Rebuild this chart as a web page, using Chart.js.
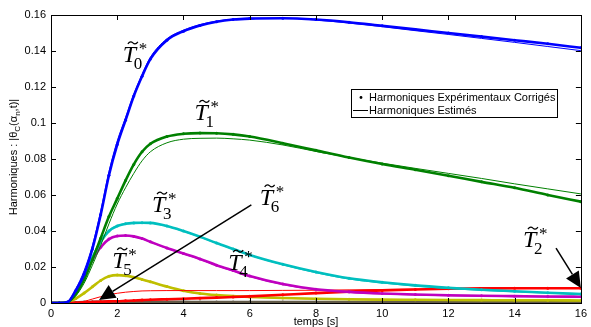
<!DOCTYPE html>
<html>
<head>
<meta charset="utf-8">
<script src="https://cdn.jsdelivr.net/npm/chart.js@4/dist/chart.umd.min.js"></script>
<style>
  html, body { margin: 0; padding: 0; background: #fff; }
  #wrap { width: 591px; height: 327px; }
</style>
</head>
<body>
<div id="wrap"><canvas id="graphe" width="591" height="327"></canvas></div>
<script>
// temps [s]
var temps = [0, 0.25, 0.5, 0.75, 1, 1.25, 1.5, 1.75, 2, 2.25, 2.5, 2.75, 3, 3.5, 4, 4.5, 5, 5.5, 6, 7, 8, 9, 10, 11, 12, 13, 14, 15, 16];

// harmoniques experimentaux corriges (points) et estimes (traits)
var t0Exp = [0, 0, 0.0005, 0.007, 0.016, 0.030, 0.049, 0.071, 0.088, 0.1015, 0.115, 0.126, 0.1355, 0.146, 0.151, 0.1542, 0.1563, 0.1575, 0.158, 0.1582, 0.1575, 0.156, 0.154, 0.152, 0.150, 0.148, 0.146, 0.144, 0.1418];
var t0Est = [0, 0, 0.0008, 0.008, 0.018, 0.032, 0.051, 0.073, 0.090, 0.103, 0.116, 0.127, 0.1365, 0.1468, 0.1516, 0.1547, 0.1566, 0.1577, 0.1582, 0.1582, 0.1572, 0.1555, 0.1535, 0.1513, 0.1492, 0.147, 0.1448, 0.1425, 0.1402];
var t1Exp = [0, 0, 0.0004, 0.005, 0.013, 0.024, 0.036, 0.048, 0.058, 0.068, 0.077, 0.084, 0.0885, 0.0925, 0.094, 0.0944, 0.0943, 0.0937, 0.0925, 0.0888, 0.0848, 0.0808, 0.0772, 0.074, 0.0707, 0.0673, 0.064, 0.060, 0.0563];
var t1Est = [0, 0, 0.0003, 0.004, 0.011, 0.021, 0.032, 0.044, 0.055, 0.064, 0.072, 0.079, 0.084, 0.089, 0.091, 0.0915, 0.0916, 0.0912, 0.0905, 0.0878, 0.0842, 0.0808, 0.0777, 0.0748, 0.072, 0.0692, 0.0662, 0.0634, 0.0606];
var t2Exp = [0, 0, 0, 0.0001, 0.0003, 0.0005, 0.0007, 0.0009, 0.001, 0.0012, 0.0014, 0.0016, 0.0018, 0.0021, 0.0024, 0.0027, 0.003, 0.0033, 0.0037, 0.0046, 0.0055, 0.0063, 0.007, 0.0075, 0.0079, 0.0081, 0.0082, 0.0082, 0.0082];
var t2Est = [0, 0, 0, 0.0003, 0.0009, 0.0022, 0.0035, 0.0046, 0.0054, 0.006, 0.0064, 0.0067, 0.0068, 0.0069, 0.0069, 0.0069, 0.0069, 0.0069, 0.0069, 0.007, 0.0071, 0.0073, 0.0075, 0.0077, 0.0078, 0.0079, 0.008, 0.0081, 0.0081];
var t3Exp = [0, 0, 0.0003, 0.006, 0.015, 0.025, 0.034, 0.040, 0.0428, 0.044, 0.0445, 0.0446, 0.0445, 0.0428, 0.040, 0.0368, 0.0333, 0.030, 0.0267, 0.0215, 0.0172, 0.0137, 0.0115, 0.0098, 0.0085, 0.0074, 0.0065, 0.0057, 0.005];
var t3Est = [0, 0, 0.0004, 0.007, 0.016, 0.026, 0.035, 0.0405, 0.043, 0.0442, 0.0446, 0.0446, 0.0444, 0.0426, 0.0398, 0.0366, 0.0331, 0.0298, 0.0265, 0.0212, 0.0168, 0.0133, 0.0111, 0.0094, 0.008, 0.007, 0.0062, 0.0055, 0.0048];
var t4Exp = [0, 0, 0.0003, 0.006, 0.015, 0.024, 0.031, 0.0355, 0.0372, 0.0375, 0.037, 0.0358, 0.034, 0.0305, 0.0275, 0.0245, 0.021, 0.018, 0.015, 0.0105, 0.0076, 0.0062, 0.0053, 0.0047, 0.0043, 0.004, 0.0038, 0.0036, 0.0035];
var t4Est = [0, 0, 0.0004, 0.0065, 0.0155, 0.0245, 0.0312, 0.0355, 0.0371, 0.0373, 0.0368, 0.0356, 0.0338, 0.0303, 0.0272, 0.0242, 0.0207, 0.0177, 0.0147, 0.0102, 0.0073, 0.0059, 0.005, 0.0044, 0.004, 0.0037, 0.0035, 0.0033, 0.0032];
var t5Exp = [0, 0, 0.0002, 0.0025, 0.0055, 0.009, 0.0125, 0.0148, 0.0155, 0.0152, 0.0143, 0.0131, 0.0118, 0.0091, 0.0068, 0.0053, 0.0044, 0.0038, 0.0034, 0.0028, 0.0024, 0.0021, 0.0019, 0.0018, 0.0017, 0.0016, 0.0015, 0.0015, 0.0014];
var t5Est = [0, 0, 0.0003, 0.0027, 0.0057, 0.0092, 0.0126, 0.0148, 0.0154, 0.015, 0.0141, 0.0129, 0.0116, 0.0089, 0.0066, 0.0051, 0.0042, 0.0036, 0.0032, 0.0026, 0.0022, 0.0019, 0.0017, 0.0016, 0.0015, 0.0014, 0.0013, 0.0013, 0.0012];
var t6Exp = [0, 0, 0.0001, 0.0003, 0.0005, 0.0006, 0.0007, 0.0007, 0.0007, 0.0007, 0.0007, 0.0006, 0.0006, 0.0006, 0.0006, 0.0005, 0.0005, 0.0005, 0.0005, 0.0005, 0.0005, 0.0005, 0.0005, 0.0005, 0.0005, 0.0005, 0.0005, 0.0005, 0.0005];
var t6Est = [0, 0, 0.0001, 0.0002, 0.0004, 0.0005, 0.0005, 0.0005, 0.0005, 0.0005, 0.0005, 0.0005, 0.0005, 0.0005, 0.0004, 0.0004, 0.0004, 0.0004, 0.0004, 0.0004, 0.0004, 0.0004, 0.0004, 0.0004, 0.0004, 0.0004, 0.0004, 0.0004, 0.0004];

var ticksX = [0, 2, 4, 6, 8, 10, 12, 14, 16];
var ticksY = [0, 0.02, 0.04, 0.06, 0.08, 0.1, 0.12, 0.14, 0.16];

// etiquettes des courbes : [indice, t, valeur]
var etiquettes = [["0", 2.17, 0.134], ["1", 4.33, 0.1015], ["3", 3.05, 0.0505], ["6", 6.3, 0.0545], ["5", 1.85, 0.0195], ["4", 5.35, 0.0183], ["2", 14.25, 0.031]];
// fleches : [t depart, val depart, t pointe, val pointe]
var fleches = [[6.05, 0.0545, 1.45, 0.0017], [15.25, 0.0305, 16, 0.0083]];

var sansF = '"Liberation Sans", Arial, sans-serif';
var serifF = '"Liberation Serif", "Times New Roman", serif';

function serie(nom, vals, coul, exp) {
  return {
    label: nom,
    data: vals.map(function (v, i) { return { x: temps[i], y: v }; }),
    borderColor: coul,
    backgroundColor: coul,
    borderWidth: exp ? 2.6 : 1,
    pointRadius: exp ? 1.5 : 0,
    pointHoverRadius: 0,
    pointBorderWidth: 0,
    cubicInterpolationMode: 'monotone',
    fill: false
  };
}

var jeux = [
  serie('T0 exp', t0Exp, '#0000ff', true), serie('T0 est', t0Est, '#0000ff', false),
  serie('T1 exp', t1Exp, '#008000', true), serie('T1 est', t1Est, '#008000', false),
  serie('T3 exp', t3Exp, '#00bfbf', true), serie('T3 est', t3Est, '#00bfbf', false),
  serie('T4 exp', t4Exp, '#bf00bf', true), serie('T4 est', t4Est, '#bf00bf', false),
  serie('T2 est', t2Est, '#ff0000', false), serie('T2 exp', t2Exp, '#ff0000', true),
  serie('T5 exp', t5Exp, '#bfbf00', true), serie('T5 est', t5Est, '#bfbf00', false),
  serie('T6 exp', t6Exp, '#625a48', true), serie('T6 est', t6Est, '#404040', false)
];

function tildeT(ctx, x, y, sub) {
  ctx.fillStyle = '#000';
  ctx.textAlign = 'left';
  ctx.textBaseline = 'alphabetic';
  ctx.font = 'italic 24px ' + serifF;
  ctx.fillText('T', x, y);
  // tilde
  ctx.beginPath();
  ctx.lineWidth = 1.2;
  ctx.strokeStyle = '#000';
  var tx = x + 5, ty = y - 19;
  ctx.moveTo(tx, ty + 1);
  ctx.bezierCurveTo(tx + 2, ty - 2, tx + 4, ty - 1, tx + 5, ty);
  ctx.bezierCurveTo(tx + 6, ty + 1, tx + 8, ty + 2, tx + 10, ty - 1);
  ctx.stroke();
  ctx.font = '17px ' + serifF;
  ctx.fillText('*', x + 16, y - 8);
  ctx.font = '17px ' + serifF;
  ctx.fillText(sub, x + 11, y + 7);
}

function fleche(ctx, x1, y1, x2, y2) {
  var a = Math.atan2(y2 - y1, x2 - x1), L = 16, W = 7.5;
  var bx = x2 - L * Math.cos(a), by = y2 - L * Math.sin(a);
  ctx.strokeStyle = '#000';
  ctx.lineWidth = 1.5;
  ctx.beginPath(); ctx.moveTo(x1, y1); ctx.lineTo(bx, by); ctx.stroke();
  ctx.fillStyle = '#000';
  ctx.beginPath();
  ctx.moveTo(x2, y2);
  ctx.lineTo(bx + W * Math.sin(a), by - W * Math.cos(a));
  ctx.lineTo(bx - W * Math.sin(a), by + W * Math.cos(a));
  ctx.closePath(); ctx.fill();
}

var habillage = {
  id: 'habillage',
  afterDraw: function (chart) {
    var ctx = chart.ctx, ca = chart.chartArea, sx = chart.scales.x, sy = chart.scales.y;
    ctx.save();
    // cadre et graduations interieures
    ctx.strokeStyle = '#000';
    ctx.lineWidth = 1;
    ctx.strokeRect(Math.round(ca.left) + 0.5, Math.round(ca.top) + 0.5, Math.round(ca.right - ca.left), Math.round(ca.bottom - ca.top));
    ctx.beginPath();
    ticksX.forEach(function (v) {
      var px = Math.round(sx.getPixelForValue(v)) + 0.5;
      ctx.moveTo(px, ca.bottom); ctx.lineTo(px, ca.bottom - 5);
      ctx.moveTo(px, ca.top); ctx.lineTo(px, ca.top + 5);
    });
    ticksY.forEach(function (v) {
      var py = Math.round(sy.getPixelForValue(v)) + 0.5;
      ctx.moveTo(ca.left, py); ctx.lineTo(ca.left + 5, py);
      ctx.moveTo(ca.right, py); ctx.lineTo(ca.right - 5, py);
    });
    ctx.stroke();

    // etiquettes et fleches
    etiquettes.forEach(function (e) {
      tildeT(ctx, sx.getPixelForValue(e[1]), sy.getPixelForValue(e[2]), e[0]);
    });
    fleches.forEach(function (f) {
      fleche(ctx, sx.getPixelForValue(f[0]), sy.getPixelForValue(f[1]), sx.getPixelForValue(f[2]), sy.getPixelForValue(f[3]));
    });

    // legende
    var lx = 351, ly = 89, lw = 206, lh = 28;
    ctx.fillStyle = '#fff';
    ctx.fillRect(lx, ly, lw, lh);
    ctx.strokeStyle = '#000';
    ctx.lineWidth = 1;
    ctx.strokeRect(lx + 0.5, ly + 0.5, lw, lh);
    ctx.fillStyle = '#000';
    ctx.beginPath(); ctx.arc(lx + 10, ly + 8.5, 1.4, 0, 2 * Math.PI); ctx.fill();
    ctx.beginPath(); ctx.moveTo(lx + 2, ly + 21.5); ctx.lineTo(lx + 17, ly + 21.5); ctx.stroke();
    ctx.font = '11px ' + sansF;
    ctx.textAlign = 'left';
    ctx.textBaseline = 'alphabetic';
    ctx.fillText('Harmoniques Expérimentaux Corrigés', lx + 18, ly + 12);
    ctx.fillText('Harmoniques Estimés', lx + 18, ly + 25);

    // titres des axes
    ctx.textAlign = 'center';
    ctx.fillText('temps [s]', (ca.left + ca.right) / 2, 325);

    ctx.save();
    ctx.translate(17, 157);
    ctx.rotate(-Math.PI / 2);
    var morceaux = [['Harmoniques : |\u03b8', 0, 11], ['C', 3, 8], ['(\u03b1', 0, 11], ['n', 3, 8], [',t)|', 0, 11]];
    var total = 0;
    morceaux.forEach(function (m) { ctx.font = m[2] + 'px ' + sansF; total += ctx.measureText(m[0]).width; });
    var cx = -total / 2;
    ctx.textAlign = 'left';
    morceaux.forEach(function (m) {
      ctx.font = m[2] + 'px ' + sansF;
      ctx.fillText(m[0], cx, m[1]);
      cx += ctx.measureText(m[0]).width;
    });
    ctx.restore();
    ctx.restore();
  }
};

new Chart(document.getElementById('graphe'), {
  type: 'line',
  data: { datasets: jeux },
  options: {
    responsive: false,
    animation: false,
    events: [],
    layout: { padding: { left: 0, right: 8, top: 15, bottom: 0 } },
    plugins: { legend: { display: false }, tooltip: { enabled: false } },
    scales: {
      x: {
        type: 'linear', min: 0, max: 16,
        afterBuildTicks: function (s) { s.ticks = ticksX.map(function (v) { return { value: v }; }); },
        afterFit: function (s) { s.height = 24; },
        grid: { display: false, drawTicks: false },
        border: { display: true, color: '#000' },
        ticks: { color: '#000', padding: 4, font: { family: sansF, size: 11 }, maxRotation: 0 }
      },
      y: {
        type: 'linear', min: 0, max: 0.16,
        afterBuildTicks: function (s) { s.ticks = ticksY.map(function (v) { return { value: v }; }); },
        afterFit: function (s) { s.width = 51; },
        grid: { display: false, drawTicks: false },
        border: { display: true, color: '#000' },
        ticks: {
          color: '#000', padding: 5, font: { family: sansF, size: 11 },
          callback: function (v) { return String(Math.round(v * 100) / 100); }
        }
      }
    }
  },
  plugins: [habillage]
});
</script>
</body>
</html>
